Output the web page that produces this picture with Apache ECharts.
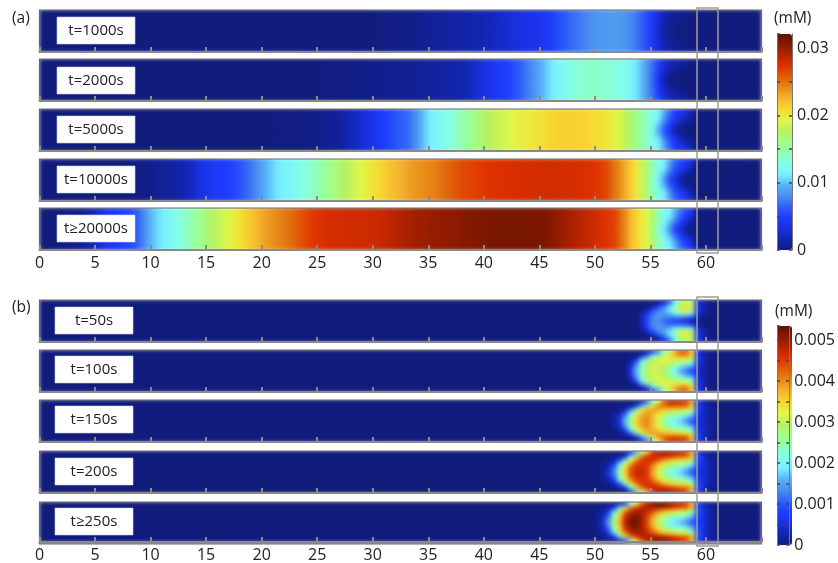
<!DOCTYPE html>
<html><head><meta charset="utf-8">
<style>html,body{margin:0;padding:0;background:#fff}#c{width:838px;height:563px}</style>
<script src="https://cdn.jsdelivr.net/npm/echarts@6/dist/echarts.min.js"></script>
</head><body>
<svg width="0" height="0" style="position:absolute"><filter id="solid" color-interpolation-filters="sRGB" x="0" y="0" width="100%" height="100%"><feComponentTransfer><feFuncA type="discrete" tableValues="0 1 1 1 1 1 1 1"/></feComponentTransfer><feGaussianBlur stdDeviation="2.2"/></filter></svg>
<div id="c"></div>
<script>
// ---- labels and ticks
const labelsA = ['t=1000s','t=2000s','t=5000s','t=10000s','t\u226520000s'];
const labelsB = ['t=50s','t=100s','t=150s','t=200s','t\u2265250s'];
const xTickLabels = ['0','5','10','15','20','25','30','35','40','45','50','55','60'];
const barTicksA = ['0','0.01','0.02','0.03'];
const barTicksB = ['0','0.001','0.002','0.003','0.004','0.005'];
const maxA = 321, maxB = 53.4;   // colour-bar ends, in 1e-4 mM
// ---- colour map, bottom to top of the colour bar
const palette = ['#111c7d','#1225b0','#1a30e0','#1e3cff','#3060f8','#4a8ef0','#58b4f8','#78f0ff','#84ffe8','#90ffb8','#a0ff88','#b8f060','#e0f848','#f8d830','#f5b830','#e88a18','#e06008','#e03200','#b82400','#8a1a00','#601000'];

// ---- panel (a): concentration along the channel, 1e-4 mM, every 0.5 length units from 0
const a1000 = [0,0,0,0,0,0,0,0,0,0,0,0,0,0,0,0,0,0,0,0, 0,0,0,0,0,0,0,0,0,0,0,0,0,0,0,0,0,0,0,0, 0,0,0,0,0,0,0,0,0,0,0,0,0,0,0,0,0,0,0,0,
 1,1,2,2,3,3,4,5,6,7,8,9,10,11,12,13,14,15,16,17,
 19,21,23,25,27,30,32,34,36,38,40,44,50,56,61,66,70,74,78,81,
 84,85,86,86,85,83,79,73,64,54,42,28,17,10,7,5,4,2,0,0, 0,0,0,0,0,0,0,0,0,0];
const a2000 = [0,0,0,0,0,0,0,0,0,0,0,0,0,0,0,0,0,0,0,0, 0,0,0,0,0,0,0,0,0,0,0,0,0,0,0,0,0,0,0,0,
 0,0,0,0,0,0,0,0,0,0,1,1,1,2,2,2,3,3,4,4,
 5,5,6,6,7,7,8,8,9,10,10,11,12,13,14,15,16,20,25,30,
 35,40,44,46,50,56,62,70,78,86,95,104,112,118,122,126,132,136,138,138,
 137,136,135,132,128,124,118,110,98,84,68,50,30,22,16,12,8,4,0,0, 0,0,0,0,0,0,0,0,0,0];
const a5000 = [0,0,0,0,0,0,0,0,0,0,0,0,0,0,0,0,0,0,0,0, 0,0,0,0,0,0,0,0,0,0,0,0,0,0,0,0,0,0,0,0,
 0,0,1,1,1,1,2,2,3,4,5,6,7,9,12,16,20,25,30,35,
 40,45,50,55,60,64,68,78,90,103,113,118,122,128,135,142,150,156,162,168,
 175,179,183,187,190,194,197,199,200,203,205,208,210,212,212,212,212,211,210,208,
 207,204,200,196,190,180,170,160,150,138,125,115,92,68,48,38,28,16,0,0, 0,0,0,0,0,0,0,0,0,0];
const a10000 = [0,0,0,0,0,0,0,0,0,0,0,0,0,0,0,0,2,2,3,4,
 5,7,9,10,12,15,18,24,30,35,40,43,45,48,50,55,60,67,75,83,
 92,100,108,112,116,118,125,130,135,142,148,154,160,166,172,178,185,190,195,200,
 205,210,215,220,225,228,232,235,238,240,243,246,250,254,258,262,265,267,269,270,
 272,273,274,275,275,276,276,277,277,278,278,278,278,278,278,277,277,276,275,274,
 272,268,262,250,240,228,215,200,185,165,145,125,112,88,65,52,42,28,0,0, 0,0,0,0,0,0,0,0,0,0];
const a20000 = [0,0,0,0,2,3,5,8,12,18,25,33,42,45,48,52,55,62,75,88,
 100,108,115,118,125,132,140,148,155,162,170,176,182,188,195,200,207,214,220,226,
 232,236,240,244,248,253,258,263,268,271,274,276,278,279,279,280,280,280,280,281,
 282,283,285,287,290,292,294,296,298,299,300,301,302,303,304,305,306,307,308,309,
 310,311,312,312,312,312,312,311,311,311,310,308,305,302,298,295,292,288,285,282,
 278,275,272,268,255,240,225,210,200,190,170,145,125,112,95,70,55,40,0,0, 0,0,0,0,0,0,0,0,0,0];
// right end of each strip (x = 55 to 58.5), top edge row to centre row
const edge1000 = [[42,28,17,10,7,5,4,2],[42,28,17,10,7,5,3,2],[41,27,16,9,6,4,2,1],[41,26,14,8,5,3,2,1],[40,25,13,7,4,2,1,0],[40,24,12,6,3,2,1,0]];
const edge2000 = [[68,50,30,22,16,12,8,4],[68,50,30,20,14,10,6,3],[68,48,26,16,10,6,4,1],[66,44,22,10,4,2,1,0],[64,42,18,6,2,1,0,0],[64,40,16,4,1,0,0,0]];
const edge5000 = [[125,115,92,68,48,38,28,16],[125,115,90,65,46,36,24,12],[124,112,85,60,42,30,16,7],[122,106,76,50,34,16,7,3],[118,98,66,44,22,8,3,1],[116,94,60,40,15,5,2,0]];
const edge10000 = [[145,125,112,88,65,52,42,28],[145,125,112,86,62,50,38,22],[145,124,110,82,56,44,28,14],[143,120,102,70,48,32,14,6],[140,115,92,60,40,18,6,2],[138,112,86,54,34,12,4,1]];
const edge20000 = [[170,145,125,112,95,70,55,40],[170,145,125,112,92,66,50,34],[170,145,124,110,85,58,42,24],[168,143,120,100,72,48,30,14],[165,138,112,88,58,38,16,6],[163,135,108,82,52,30,10,3]];

// ---- panel (b): 1e-4 mM, x = 50 to 60.5 every 0.5, top edge row to centre row
const b50 = [
 [0,0,0,0,0,0,0,0,0,0,0,1,4,10,19,27,30,27,6,2,0,0],
 [0,0,0,0,0,0,0,0,0,0,2,6,11,17,24,30,33,30,8,3,1,0],
 [0,0,0,0,0,0,0,0,0,3,8,12,15,19,25,31,34,30,8,3,1,0],
 [0,0,0,0,0,0,0,0,2,7,12,14,14,16,19,23,24,20,5,2,1,0],
 [0,0,0,0,0,0,0,0,3,9,13,14,13,12,12,12,11,8,2,1,0,0],
 [0,0,0,0,0,0,0,0,3,9,13,13,11,9,8,6,4,3,1,0,0,0]];
const b100 = [
 [0,0,0,0,0,0,0,0,0,3,8,14,22,30,38,43,43,36,7,2,1,0],
 [0,0,0,0,0,0,0,1,4,12,21,27,31,34,37,39,39,34,8,3,1,0],
 [0,0,0,0,0,0,1,6,17,25,29,31,32,32,32,32,32,28,8,3,1,0],
 [0,0,0,0,0,0,3,12,22,28,30,31,31,29,27,25,23,20,6,3,1,0],
 [0,0,0,0,0,0,5,15,24,29,31,31,29,26,22,18,15,12,5,3,1,0],
 [0,0,0,0,0,0,6,16,25,29,31,30,28,24,20,15,12,9,5,2,1,0]];
const b150 = [
 [0,0,0,0,0,0,0,1,4,12,22,33,42,47,47,46,45,38,8,3,1,0],
 [0,0,0,0,0,0,1,6,16,27,35,40,42,43,43,43,42,36,9,4,2,0],
 [0,0,0,0,1,4,12,24,33,38,39,38,36,35,34,33,32,28,8,4,2,1],
 [0,0,0,1,3,10,20,31,37,39,37,34,31,28,26,25,24,19,7,4,2,1],
 [0,0,0,2,5,15,25,34,39,40,37,32,27,23,21,19,17,13,6,4,2,1],
 [0,0,0,2,6,16,27,35,39,40,37,31,25,21,19,17,13,10,5,4,2,1]];
const b200 = [
 [0,0,0,0,0,1,6,16,28,38,46,48,49,49,48,47,45,38,9,3,1,0],
 [0,0,0,1,2,7,22,34,42,46,47,47,46,45,43,42,41,36,10,5,2,1],
 [0,0,1,3,10,22,33,41,45,46,45,42,38,35,33,32,31,27,9,5,3,1],
 [0,1,2,8,19,31,40,45,46,45,41,36,32,29,27,26,25,19,8,5,3,1],
 [0,1,4,11,23,34,43,46,47,45,39,33,28,24,22,20,17,13,7,5,3,1],
 [0,2,5,13,25,36,44,47,47,45,38,31,25,21,19,17,13,10,6,5,3,1]];
const b250 = [
 [0,0,0,1,2,8,20,33,43,48,51,52,52,50,48,47,45,38,9,4,2,1],
 [0,1,2,6,18,31,41,46,48,49,49,49,48,47,45,43,42,37,10,5,3,1],
 [1,2,7,17,30,41,47,49,49,47,44,40,37,35,33,32,31,28,10,6,3,1],
 [1,3,10,23,35,45,50,51,49,45,40,35,31,28,26,25,24,18,9,6,3,1],
 [1,4,13,26,37,47,51,52,49,44,38,31,26,22,20,19,17,13,8,6,3,1],
 [1,5,14,27,38,48,52,52,49,44,37,30,24,20,18,16,13,10,7,6,3,1]];

// ---- layout
const stripTopsA = [10,59,109,159,208], stripTopsB = [300,350,400,451,502], stripH = 42;
const gridLeft = 39.5, gridW = 722;
const boxYA = [17,67,116,166,215], boxYB = [307,356,406,458,508];
const N_COL = 130, MIRROR = [0,1,2,3,4,5,4,3,2,1,0];
const EDGE_START = 110, B_START = 100;

const profiles = [a1000,a2000,a5000,a10000,a20000];
const edges = [edge1000,edge2000,edge5000,edge10000,edge20000];
const maps = [b50,b100,b150,b200,b250];
const colIdx = Array.from({length:N_COL},(_,i)=>i);
const rowIdx = MIRROR.map((_,i)=>i);

function cellsA(k){
  const out=[];
  MIRROR.forEach((r,y)=>colIdx.forEach(x=>{
    const inEdge = x>=EDGE_START && x<EDGE_START+8;
    out.push([x,y,inEdge?edges[k][r][x-EDGE_START]:profiles[k][x]]);
  }));
  return out;
}
function cellsB(k){
  const out=[];
  MIRROR.forEach((r,y)=>colIdx.forEach(x=>{
    const v = maps[k][r][x-B_START];
    out.push([x,y,v===undefined?0:v]);
  }));
  return out;
}

const grids=[],xAxes=[],yAxes=[],series=[],graphics=[];
const tops=stripTopsA.concat(stripTopsB);
tops.forEach((top,i)=>{
  grids.push({left:gridLeft,top:top,width:gridW,height:stripH});
  xAxes.push({gridIndex:i,type:'category',data:colIdx,show:false});
  const bottomOfPanel = i===4||i===9;
  xAxes.push({gridIndex:i,type:'value',position:'bottom',min:0,max:65,interval:5,z:5,
    splitLine:{show:false},
    axisLine:{show:true,onZero:false,lineStyle:{color:'#8a8a8a',width:2}},
    axisTick:{show:true,inside:true,length:5,lineStyle:{color:'#8a8a8a',width:2}},
    axisLabel:{show:bottomOfPanel,margin:5,fontFamily:'Open Sans',fontSize:16,color:'#222',hideOverlap:false,
      formatter:v=>xTickLabels.includes(String(v))?String(v):''}});
  yAxes.push({gridIndex:i,type:'category',data:rowIdx,show:false});
  series.push({type:'heatmap',xAxisIndex:2*i,yAxisIndex:i,silent:true,zlevel:-1,progressive:0,animation:false,
    data:i<5?cellsA(i):cellsB(i-5)});
  // blur guard around the strip, then the strip frame
  graphics.push({type:'rect',z:1,silent:true,shape:{x:gridLeft-3,y:top-3,width:gridW+6,height:stripH+6},
    style:{fill:'none',stroke:'#fff',lineWidth:6}});
  graphics.push({type:'rect',z:2,silent:true,shape:{x:gridLeft,y:top,width:gridW,height:stripH},
    style:{fill:'none',stroke:'#666',lineWidth:1.2}});
});
// colour bars
const bars=[{top:34,h:216,max:0.0321,step:0.005,ticks:barTicksA},{top:326,h:219,max:0.00534,step:0.0005,ticks:barTicksB}];
bars.forEach((b,j)=>{
  const g=10+j;
  grids.push({left:777,top:b.top,width:15,height:b.h});
  xAxes.push({gridIndex:g,type:'value',show:false,min:0,max:1});
  const lab=v=>{const s=String(+v.toFixed(4));return b.ticks.includes(s)?s:'';};
  const tick={show:true,inside:true,length:3,lineStyle:{color:'#444',width:1.5}};
  const line={show:true,onZero:false,lineStyle:{color:'#777',width:1}};
  yAxes.push({gridIndex:g,type:'value',position:'left',min:0,max:b.max,interval:b.step,z:8,splitLine:{show:false},axisLine:line,axisTick:tick,axisLabel:{show:false}});
  yAxes.push({gridIndex:g,type:'value',position:'right',min:0,max:b.max,interval:b.step,z:8,splitLine:{show:false},axisLine:line,axisTick:tick,
    axisLabel:{show:true,margin:5,fontFamily:'Open Sans',fontSize:16,color:'#222',showMinLabel:true,showMaxLabel:false,formatter:lab}});
});
// marked window
[[8,245],[297,249]].forEach(([y,h])=>graphics.push({type:'rect',z:6,silent:true,shape:{x:697,y:y,width:21,height:h},style:{fill:'none',stroke:'#9c9c9c',lineWidth:1.5}}));
// time labels
function timeLabel(txt,x,y){
  graphics.push({type:'rect',z:6,silent:true,shape:{x:x,y:y,width:78,height:27},style:{fill:'#fff',stroke:'#c8d0ee',lineWidth:0.6}});
  graphics.push({type:'text',z:7,silent:true,x:x+39,y:y+13.5,style:{text:txt,fill:'#222',font:'15px "Open Sans"',align:'center',verticalAlign:'middle'}});
}
labelsA.forEach((t,i)=>timeLabel(t,57,boxYA[i]));
labelsB.forEach((t,i)=>timeLabel(t,55,boxYB[i]));
[['(a)',12,19],['(b)',12,308],['(mM)',774,19],['(mM)',775,312]].forEach(([t,x,y])=>graphics.push({type:'text',z:7,silent:true,x:x,y:y,
  style:{text:t,fill:'#222',font:'15.5px "Open Sans"',align:'left',verticalAlign:'middle'}}));

const chart=echarts.init(document.getElementById('c'),null,{renderer:'canvas'});
const vm=(idx,max,top,h)=>({type:'continuous',seriesIndex:idx,min:0,max:max,show:true,left:777,top:top,itemWidth:15,itemHeight:h,padding:0,text:null,
  calculable:false,hoverLink:false,realtime:false,showLabel:false,inRange:{color:palette},z:4,textStyle:{fontSize:0}});
chart.setOption({
  animation:false,
  grid:grids,xAxis:xAxes,yAxis:yAxes,series:series,
  visualMap:[vm([0,1,2,3,4],maxA,34,216),vm([5,6,7,8,9],maxB,326,219)],
  graphic:{elements:graphics}
});
function soften(){
  const cv=document.querySelector('canvas[data-zr-dom-id="zr_-1"]');
  if(cv) cv.style.filter='url(#solid)';
}
chart.getZr().flush();
soften();
chart.on('finished',soften);
</script></body></html>
